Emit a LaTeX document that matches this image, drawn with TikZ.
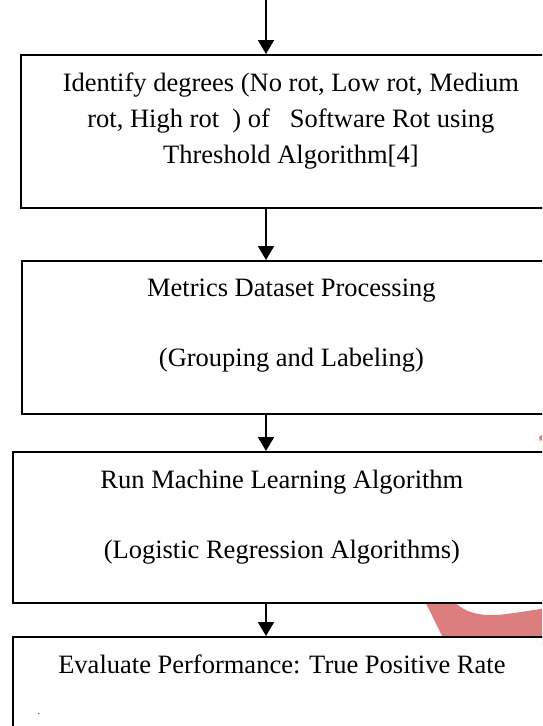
\documentclass[tikz,border=0pt]{standalone}
\usepackage{fontspec}
\setmainfont{Liberation Serif}
\usetikzlibrary{arrows.meta,positioning}
\definecolor{rotmark}{RGB}{221,126,126}

\begin{document}
\begin{tikzpicture}[x=1pt,y=-1pt,
		flowbox/.style={draw,line width=1.8pt,fill=white,anchor=north west,inner sep=0},
		lbl/.style={font=\fontsize{26.5}{36}\selectfont,align=center,inner sep=0},
		flow/.style={line width=1.8pt,-{Triangle[length=14pt,width=16pt]}}]
		\path[use as bounding box,clip] (0,0) rectangle (542,726);
		\fill[white] (0,0) rectangle (542,726);
		% red stroke behind the boxes
		\fill[rotmark] (417,585) -- (447,646) -- (560,646) -- (560,606) .. controls (520,612) and (500,616) .. (487,615) .. controls (470,614) and (460,608) .. (455,602) -- (448,585) -- cycle;
		\fill[rotmark] (539,437) -- (542,435) -- (542,440) -- (540,441) -- cycle;
		\node[flowbox,minimum width=540,minimum height=153] (box1) at (20,54) {};
		\node[flowbox,minimum width=539,minimum height=153] (box2) at (21,260) {};
		\node[flowbox,minimum width=538,minimum height=151] (box3) at (12,451) {};
		\node[flowbox,minimum width=538,minimum height=154] (box4) at (12,636) {};
		\node[lbl,below=19pt of box1.north] (txt1) {Identify degrees (No rot, Low rot, Medium\\ rot, High rot\ \ ) of\ \ \ Software Rot using\\ Threshold Algorithm[4]};
		\node[lbl,below=19pt of box2.north] (txt2) {Metrics Dataset Processing\\[34pt] (Grouping and Labeling)};
		\node[lbl,below=19pt of box3.north] (txt3) {Run Machine Learning Algorithm\\[34pt] (Logistic Regression Algorithms)};
		\node[lbl,below=19pt of box4.north] (txt4) {Evaluate Performance: True Positive Rate};
		\node[font=\fontsize{10}{12}\selectfont,inner sep=0] (dot) at (39,714) {.};
		\coordinate (top) at (266,0);
		\draw[flow] (top) -- (top |- box1.north);
		\draw[flow] (top |- box1.south) -- (top |- box2.north);
		\draw[flow] (top |- box2.south) -- (top |- box3.north);
		\draw[flow] (top |- box3.south) -- (top |- box4.north);
	\end{tikzpicture}
\end{document}
